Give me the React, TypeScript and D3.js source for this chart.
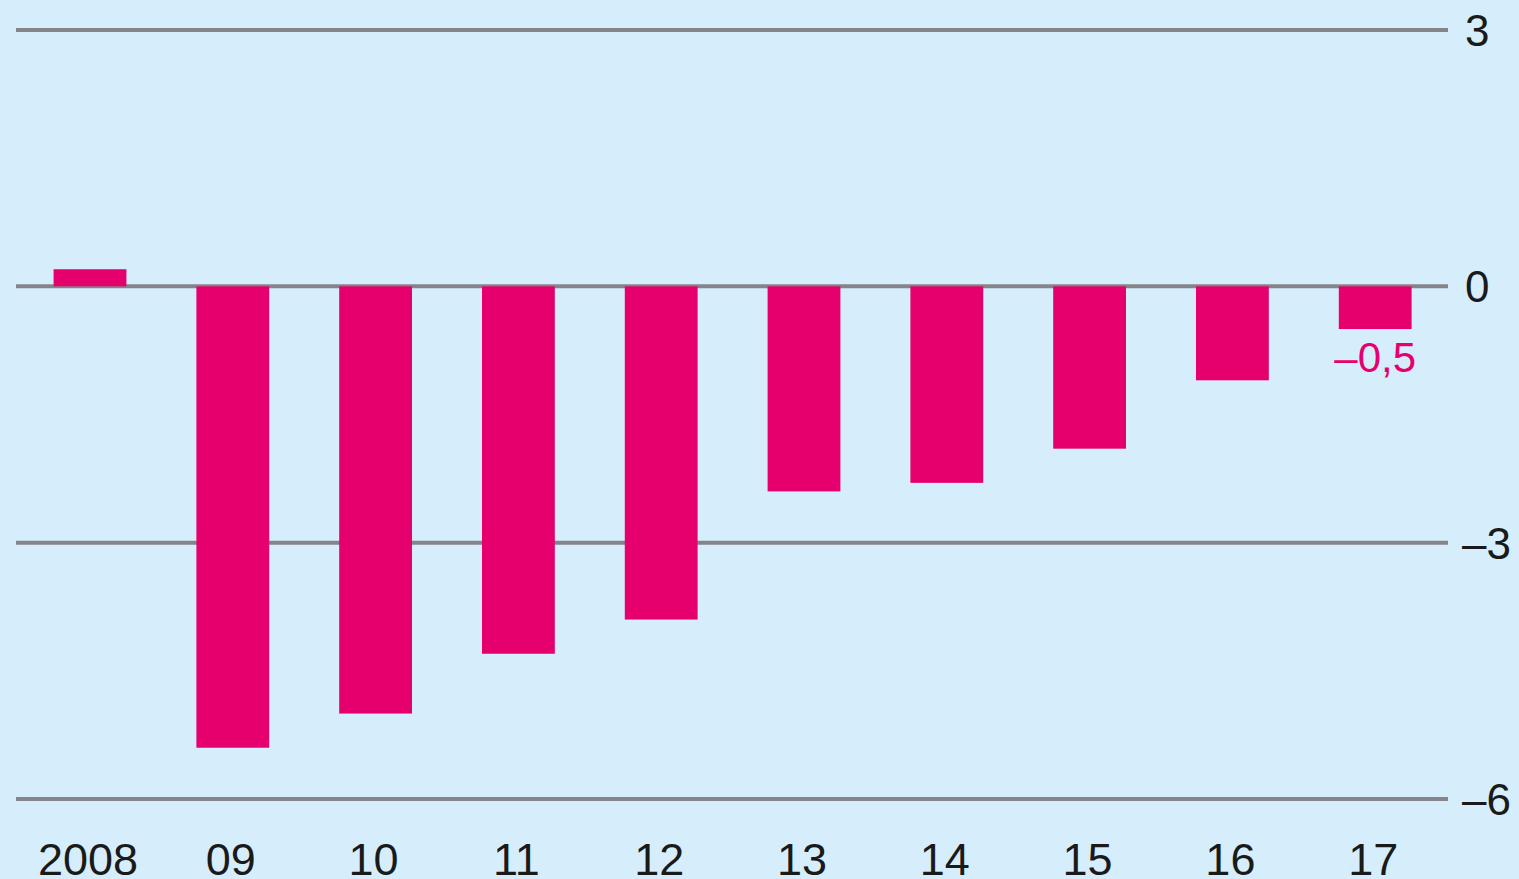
import React, { useEffect, useRef } from 'react';
import * as d3 from 'd3';

const years = ['2008', '09', '10', '11', '12', '13', '14', '15', '16', '17'];
const values = [0.2, -5.4, -5.0, -4.3, -3.9, -2.4, -2.3, -1.9, -1.1, -0.5];
const yTicks = [3, 0, -3, -6];
const highlight = { index: 9, text: '–0,5' };

const App = () => {
  const ref = useRef<SVGSVGElement>(null);

  useEffect(() => {
    const width = 1519;
    const height = 879;
    const gridLeft = 16;
    const gridRight = 1448;

    const svg = d3.select(ref.current);
    svg.selectAll('*').remove();

    svg.append('rect')
      .attr('width', width)
      .attr('height', height)
      .attr('fill', '#d6eefc');

    const x = d3.scaleBand()
      .domain(years)
      .range([18.6, 1446.6])
      .paddingInner(0.49)
      .paddingOuter(0.245);

    const y = d3.scaleLinear()
      .domain([-6, 3])
      .range([799, 30]);

    // gridlines + right labels
    const grid = svg.append('g');
    grid.selectAll('line')
      .data(yTicks)
      .join('line')
      .attr('x1', gridLeft)
      .attr('x2', gridRight)
      .attr('y1', d => y(d))
      .attr('y2', d => y(d))
      .attr('stroke', '#858589')
      .attr('stroke-width', 4);

    grid.selectAll('text')
      .data(yTicks)
      .join('text')
      .attr('x', d => (d < 0 ? 1462 : 1465))
      .attr('y', d => y(d))
      .attr('dy', '0.36em')
      .attr('fill', '#1a1a1a')
      .attr('font-size', 44)
      .text(d => (d < 0 ? '–' + Math.abs(d) : String(d)));

    // bars
    svg.append('g')
      .selectAll('rect')
      .data(values)
      .join('rect')
      .attr('x', (d, i) => x(years[i])!)
      .attr('width', x.bandwidth())
      .attr('y', d => y(Math.max(0, d)))
      .attr('height', d => Math.abs(y(d) - y(0)))
      .attr('fill', '#e6006e');

    // value label for last bar
    const hv = values[highlight.index];
    svg.append('text')
      .attr('x', x(years[highlight.index])! + x.bandwidth() / 2)
      .attr('y', y(hv) + 43)
      .attr('text-anchor', 'middle')
      .attr('fill', '#e6006e')
      .attr('font-size', 42)
      .text(highlight.text);

    // x labels
    svg.append('g')
      .selectAll('text')
      .data(years)
      .join('text')
      .attr('x', d => x(d)! + x.bandwidth() / 2 - 2)
      .attr('y', 875)
      .attr('text-anchor', 'middle')
      .attr('fill', '#1a1a1a')
      .attr('font-size', 45)
      .text(d => d);
  }, []);

  return (
    <svg
      ref={ref}
      width={1519}
      height={879}
      style={{ position: 'absolute', left: 0, top: 0, fontFamily: '"Liberation Sans", Arial, sans-serif' }}
    />
  );
};

export default App;
